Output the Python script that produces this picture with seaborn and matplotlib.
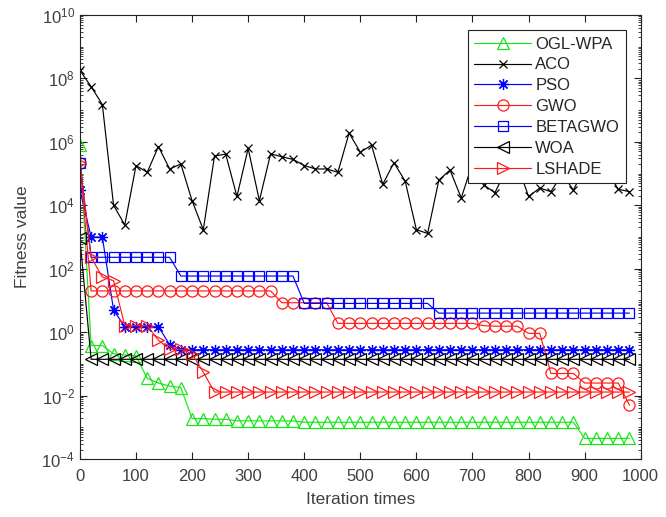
import numpy as np
import matplotlib
matplotlib.use('Agg')
import matplotlib.pyplot as plt
import seaborn as sns
from matplotlib.ticker import LogLocator, FixedLocator, NullFormatter

# iterations sampled every 20
iters = list(range(0, 1000, 20))

ogl_wpa = ([8e5, 0.38, 0.38, 0.21, 0.19, 0.18, 0.035, 0.025, 0.02, 0.018,
            0.0019, 0.0019, 0.0018, 0.0018] + [0.0016] * 6 + [0.00145] * 25
           + [0.00045] * 5)
aco = [1.8e8, 5.5e7, 1.5e7, 1.0e4, 2.4e3, 1.8e5, 1.1e5, 7.1e5, 1.4e5, 2.0e5,
       1.4e4, 1.7e3, 3.6e5, 4.1e5, 1.9e4, 6.2e5, 1.4e4, 4.2e5, 3.4e5, 2.8e5,
       1.8e5, 1.4e5, 1.4e5, 1.1e5, 1.9e6, 4.7e5, 7.9e5, 4.6e4, 2.2e5, 5.8e4,
       1.7e3, 1.3e3, 6.2e4, 1.3e5, 1.7e4, 2.1e5, 4.4e4, 2.5e4, 1.3e5, 2.0e5,
       1.9e4, 3.5e4, 2.7e4, 1.0e5, 3.0e4, 1.6e5, 7.9e4, 1.3e5, 3.2e4, 2.7e4]
pso = [3e4, 1000, 1000, 5] + [1.5] * 4 + [0.4] + [0.28] * 41
gwo = ([2.2e5] + [20] * 17 + [8.5] * 5 + [1.9] * 13 + [1.6] + [1.55] * 3
       + [0.92] * 2 + [0.05] * 3 + [0.025] * 4 + [0.005])
betagwo = [2.2e5] + [230] * 8 + [59] * 11 + [8.1] * 12 + [4.0] * 18
woa = [900] + [0.14] * 49
lshade = ([2.2e5, 230, 55, 42, 1.6, 1.6, 1.6, 0.56, 0.29, 0.29, 0.21, 0.055]
          + [0.013] * 38)

names = ['OGL-WPA', 'ACO', 'PSO', 'GWO', 'BETAGWO', 'WOA', 'LSHADE']
series = [ogl_wpa, aco, pso, gwo, betagwo, woa, lshade]
colors = ['#19e619', '#000000', '#0000ff', '#ff1a1a', '#0000ff', '#000000', '#ff1a1a']
markers = ['^', 'x', (8, 2, 0), 'o', 's', '<', '>']
msizes = [8, 6, 8, 8, 6.5, 8, 8]

sns.set_style('ticks')
plt.rcParams['font.family'] = ['Liberation Sans', 'DejaVu Sans']
plt.rcParams['mathtext.default'] = 'regular'

fig = plt.figure(figsize=(6.66, 5.17), dpi=100)
ax = fig.add_axes([0.120, 0.112, 0.842, 0.859])

for name, vals, c, m, ms in zip(names, series, colors, markers, msizes):
    sns.lineplot(x=iters, y=vals, ax=ax, color=c, marker=m, markersize=ms,
                 markerfacecolor='none', markeredgecolor=c, markeredgewidth=0.9,
                 linewidth=0.85, label=name)

ax.set_yscale('log')
ax.set_xlim(0, 1000)
ax.set_ylim(1e-4, 1e10)
ax.set_xticks(range(0, 1001, 100))
ax.yaxis.set_major_locator(FixedLocator([10.0 ** k for k in range(-4, 11, 2)]))
ax.set_yticklabels(['$10^{%d}$' % k for k in range(-4, 11, 2)])
ax.yaxis.set_minor_locator(LogLocator(base=10, subs=np.arange(1, 10), numticks=100))
ax.yaxis.set_minor_formatter(NullFormatter())

txt = '#404040'
ax.tick_params(axis='both', which='both', direction='in', top=True, right=True,
               labelsize=12, labelcolor=txt, color='#222222')
ax.tick_params(which='major', length=5, width=0.8)
ax.tick_params(which='minor', length=2.5, width=0.6)
ax.tick_params(axis='x', which='major', pad=7)
for s in ax.spines.values():
    s.set_visible(True)
    s.set_color('#222222')
    s.set_linewidth(0.8)

ax.set_xlabel('Iteration times', fontsize=12.5, color=txt, labelpad=6)
ax.set_ylabel('Fitness value', fontsize=12.5, color=txt, labelpad=8)

leg = ax.legend(loc='upper right', fontsize=12, frameon=True, fancybox=False,
                edgecolor='#222222', framealpha=1, handlelength=3.4,
                borderaxespad=0.9, labelspacing=0.35, handletextpad=0.25,
                borderpad=0.4)
leg.get_frame().set_linewidth(0.8)

fig.savefig('out.png', dpi=100)
